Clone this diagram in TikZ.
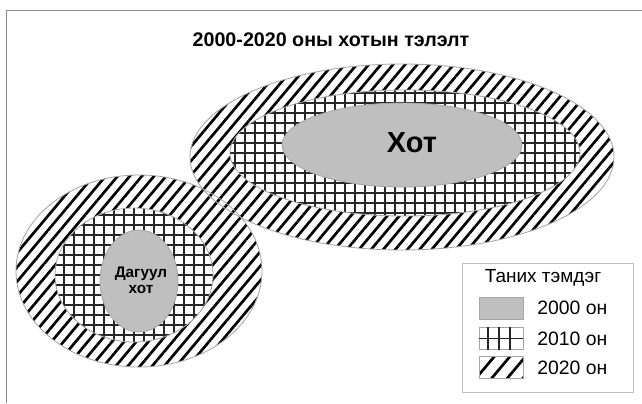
\documentclass[tikz,border=0pt]{standalone}
\usepackage{fontspec}
\setmainfont{Liberation Sans}
\usepackage{tikz}
\usetikzlibrary{patterns.meta,positioning}

% quadricula recortada numa elipse: centro x, centro y, raio x, raio y
\newcommand{\gridzone}[4]{%
  \begin{scope}
    \clip (#1,#2) ellipse [x radius=#3, y radius=#4];
    \fill[white] (#1,#2) ellipse [x radius=#3, y radius=#4];
    \foreach \gx in {-180,-170,...,180}
      \draw[gridline] (#1+\gx,#2-#4) -- (#1+\gx,#2+#4);
    \foreach \gy in {-70,-60,...,70}
      \draw[gridline] (#1-#3,#2+\gy) -- (#1+#3,#2+\gy);
  \end{scope}
  \draw[rim] (#1,#2) ellipse [x radius=#3, y radius=#4];}

\begin{document}
\begin{tikzpicture}[
      x=0.025cm, y=-0.025cm, % 1 unidade = 1 pixel da figura
      frameline/.style={draw=black!45, line width=0.7pt},
      rim/.style={draw=black!35, line width=0.6pt},
      gridline/.style={draw=black!85, line width=0.8pt},
      zone2020/.style={preaction={fill=white},
        pattern={Lines[angle=50, distance=6.6pt, line width=1.9pt]}},
      key2020/.style={preaction={fill=white},
        pattern={Lines[angle=50, distance=8.5pt, line width=1.9pt, xshift=2pt]}},
      zone2000/.style={fill=black!25},
      swatch/.style={rectangle, draw=black!35, line width=0.5pt,
        minimum width=1.1cm, minimum height=0.55cm, inner sep=0pt},
      keylabel/.style={anchor=west, font=\fontsize{13.8}{15}\selectfont, inner sep=0pt},
  ]

      \useasboundingbox (0,0) rectangle (642,403);

      % --- MOLDURA ---
      \coordinate (fbl) at (6,403);
      \coordinate (ftl) at (6,10);
      \coordinate (ftr) at (642,10);
      \draw[frameline] (fbl) -- (ftl) -- (ftr);

      % --- TITULO ---
      \node[font=\fontsize{14}{15}\selectfont\bfseries] (title) at (331,40) {2000-2020 оны хотын тэлэлт};

      % --- ZONA 2020 (hachurada) ---
      \path[zone2020] (139,271) ellipse [x radius=123, y radius=96];
      \path[zone2020] (402,157) ellipse [x radius=212, y radius=93];
      \draw[rim] (139,271) ellipse [x radius=123, y radius=96];
      \draw[rim] (402,157) ellipse [x radius=212, y radius=93];

      % --- ZONA 2010 (quadriculada) ---
      \gridzone{134}{275}{79}{67}
      \gridzone{405}{153}{175}{63}

      % --- ZONA 2000 (cinza) ---
      \draw[rim, zone2000] (139,281) ellipse [x radius=39, y radius=51];
      \draw[rim, zone2000] (402,145) ellipse [x radius=120, y radius=42];

      \node[font=\fontsize{20.6}{22}\selectfont\bfseries] (city) at (412,143) {Хот};
      \node[font=\fontsize{10.9}{11.6}\selectfont\bfseries, align=center] (satcity) at (141,280) {Дагуул\\хот};

      % --- LEGENDA ---
      \node[rectangle, draw=black!25, line width=0.5pt, minimum width=4.275cm,
        minimum height=3.225cm, anchor=north west] (legend) at (462,263) {};
      \node[font=\fontsize{13.5}{15}\selectfont] (legendtitle) at (543,278) {Таних тэмдэг};

      \node[swatch, zone2000] (sw2000) at (501,308) {};
      \node[swatch, fill=white] (sw2010) at (501,338.5) {};
      \node[swatch, key2020] (sw2020) at (501,367.5) {};
      \foreach \sx in {488,499,510} \draw[gridline] (sw2010.north west -| \sx,0) -- (sw2010.south west -| \sx,0);
      \draw[gridline] (sw2010.west) -- (sw2010.east);

      \node[keylabel] (lb2000) at (537,308) {2000 он};
      \node[keylabel] (lb2010) at (537,339) {2010 он};
      \node[keylabel] (lb2020) at (537,368) {2020 он};

  \end{tikzpicture}
\end{document}
